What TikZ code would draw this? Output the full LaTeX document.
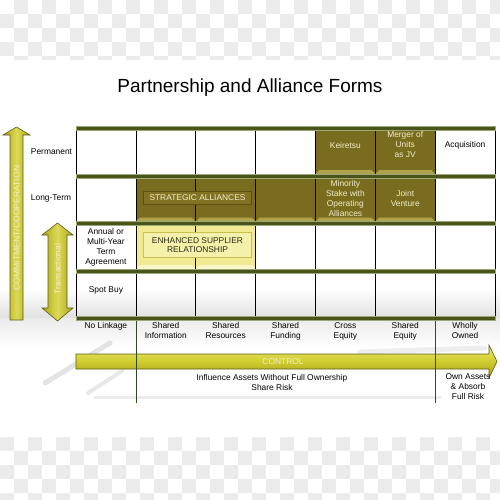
\documentclass[tikz,border=0pt]{standalone}
\usepackage{fontspec}
\setmainfont{Liberation Sans}
\definecolor{bandgreen}{HTML}{4A5419}
\definecolor{bandedge}{HTML}{98A878}
\definecolor{olivecell}{HTML}{7A6C1E}
\definecolor{olivebevel}{HTML}{B0A24A}
\definecolor{oliveplate}{HTML}{827324}
\definecolor{olivering}{HTML}{5E5012}
\definecolor{yellowcell}{HTML}{F1EA93}
\definecolor{yellowbevel}{HTML}{FAF6C8}
\definecolor{yellowplate}{HTML}{F5F0AA}
\definecolor{yellowring}{HTML}{C9BF55}
\definecolor{creamtext}{HTML}{F3EDCB}
\definecolor{darktext}{HTML}{2A2A12}
\definecolor{arrowlight}{HTML}{DEDA58}
\definecolor{arrowedge}{HTML}{A9A514}
\definecolor{arrowtop}{HTML}{ECEA6A}
\definecolor{arrowmid}{HTML}{CFCC30}
\definecolor{arrowbottom}{HTML}{9E9C14}
\definecolor{arrowline}{HTML}{5A5E18}
\definecolor{checkgray}{HTML}{EBEBEB}
\definecolor{splitgreen}{HTML}{2E4A22}
\newcommand{\cellfont}{\fontsize{8.4}{10}\selectfont}
\newcommand{\titlefont}{\fontsize{19}{22}\selectfont}
\begin{document}
\begin{tikzpicture}[x=1pt, y=-1pt,
  cellbox/.style={draw=black, line width=0.6pt, minimum width=59.86pt, minimum height=43.5pt, inner sep=0pt},
  whitecell/.style={cellbox, fill=white},
  olivebox/.style={cellbox, fill=olivecell, path picture={
    \fill[olivebevel] (path picture bounding box.south west) -- (path picture bounding box.south east)
      -- ([shift={(-4pt,4pt)}]path picture bounding box.south east) -- ([shift={(4pt,4pt)}]path picture bounding box.south west) -- cycle;}},
  yellowbox/.style={cellbox, fill=yellowcell, path picture={
    \fill[yellowbevel] (path picture bounding box.south west) -- (path picture bounding box.south east)
      -- ([shift={(-4pt,4pt)}]path picture bounding box.south east) -- ([shift={(4pt,4pt)}]path picture bounding box.south west) -- cycle;}},
  celltext/.style={font=\cellfont, align=center, inner sep=0pt},
  platebox/.style={celltext, minimum width=108pt, line width=0.5pt},
  sidetext/.style={font=\cellfont, text=creamtext, rotate=90, inner sep=0pt},
  bigarrow/.style={draw=arrowline, line width=0.6pt, left color=arrowedge, right color=arrowedge, middle color=arrowlight},
  splitline/.style={draw=splitgreen, line width=0.8pt}]
  \useasboundingbox (0,0) rectangle (500,500);
  % transparent-background checks, top and bottom
  \begin{scope}
    \clip (0,0) rectangle (500,60);
    \foreach \i in {0,...,35} \foreach \j in {0,...,4} {
      \pgfmathparse{int(mod(\i+\j,2))}
      \ifnum\pgfmathresult=1 \fill[checkgray] (14*\i,14*\j) rectangle ++(14,14); \fi}
  \end{scope}
  \begin{scope}
    \clip (0,437) rectangle (500,500);
    \foreach \i in {0,...,35} \foreach \j in {0,...,4} {
      \pgfmathparse{int(mod(\i+\j,2))}
      \ifnum\pgfmathresult=0 \fill[checkgray] (14*\i,437+14*\j) rectangle ++(14,14); \fi}
  \end{scope}
  % floor reflection and smudges
  \shade[top color=white, bottom color=gray!24] (0,288) rectangle (500,318);
  \shade[top color=gray!16, bottom color=white] (0,318) rectangle (500,348);
  \draw[gray!22, line width=5pt, line cap=round] (45,383) -- (110,343);
  \draw[gray!18, line width=4pt, line cap=round] (88,393) -- (122,371);
  \draw[gray!16, line width=3pt, line cap=round] (95,397) -- (440,397);
  \draw[gray!14, line width=5pt, line cap=round] (360,352) -- (485,348);
  % title
  \node[font=\titlefont] (title) at (250,88) {Partnership and Alliance Forms};
  % grid cells
  \foreach \r/\cy in {1/152.25, 2/199.75, 3/247.25}
    \foreach \c in {1,...,7}
      \node[whitecell] (c-\r-\c) at ({76+59.86*(\c-0.5)},\cy) {};
  \foreach \c in {1,...,7}
    \node[cellbox] (c-4-\c) at ({76+59.86*(\c-0.5)},294.75) {};
  \foreach \c in {5,6}
    \node[olivebox] (o-1-\c) at ({76+59.86*(\c-0.5)},152.25) {};
  \foreach \c in {2,...,6}
    \node[olivebox] (o-2-\c) at ({76+59.86*(\c-0.5)},199.75) {};
  \foreach \c in {2,3}
    \node[yellowbox] (y-3-\c) at ({76+59.86*(\c-0.5)},247.25) {};
  % raised plates
  \node[platebox, minimum height=13.5pt, fill=oliveplate, draw=olivering, text=creamtext] (strategic) at (197.5,197.5) {STRATEGIC ALLIANCES};
  \node[platebox, minimum height=25pt, fill=yellowplate, draw=yellowring, text=darktext, font=\fontsize{8.4}{9.5}\selectfont] (enhanced) at (197.5,245) {ENHANCED SUPPLIER\\RELATIONSHIP};
  % row bands
  \foreach \by in {128.5,176,223.5,271,318.5}
    \filldraw[fill=bandgreen, draw=bandedge, line width=0.4pt] (76,\by-2) rectangle (495,\by+2);
  % cell texts
  \node[celltext, text=creamtext] (keiretsu) at (o-1-5 |- 0,145) {Keiretsu};
  \node[celltext, text=creamtext] (merger) at (o-1-6 |- 0,145) {Merger of\\Units\\as JV};
  \node[celltext] (acquisition) at (c-1-7 |- 0,145) {Acquisition};
  \node[celltext, text=creamtext] (minority) at (o-2-5 |- 0,198.5) {Minority\\Stake with\\Operating\\Alliances};
  \node[celltext, text=creamtext] (joint) at (o-2-6 |- 0,198.5) {Joint\\Venture};
  % row labels
  \node[celltext] (permanent) at (51.5,152) {Permanent};
  \node[celltext] (longterm) at (51,198) {Long-Term};
  \node[celltext] (annual) at (c-3-1 |- 0,247) {Annual or\\Multi-Year\\Term\\Agreement};
  \node[celltext] (spotbuy) at (c-4-1 |- 0,290) {Spot Buy};
  % column labels
  \foreach \c/\txt in {1/{No Linkage}, 2/{Shared\\Information}, 3/{Shared\\Resources}, 4/{Shared\\Funding},
                       5/{Cross\\Equity}, 6/{Shared\\Equity}, 7/{Wholly\\Owned}}
    \node[celltext, anchor=north] (lbl-\c) at ({76+59.86*(\c-0.5)},322.5) {\txt};
  % commitment arrows
  \path[bigarrow] (10,320) -- (10,135) -- (3,135) -- (16.5,127) -- (30,135) -- (23,135) -- (23,320) -- cycle;
  \node[sidetext, font=\fontsize{8.6}{10}\selectfont] (commitment) at (16.5,228) {COMMITMENT/COOPERATION};
  \path[bigarrow] (48,235) -- (42,235) -- (57.5,223) -- (73,235) -- (67,235) -- (67,308) -- (73,308)
    -- (57.5,321) -- (42,308) -- (48,308) -- cycle;
  \node[sidetext] (transactional) at (57.5,269) {Transactional};
  % control arrow
  \path[draw=arrowline, line width=0.6pt, top color=arrowtop, bottom color=arrowbottom, middle color=arrowmid]
    (76,354) -- (489,354) -- (489,345) -- (497,361.5) -- (489,378) -- (489,369) -- (76,369) -- cycle;
  \node[celltext, text=creamtext] (control) at (283,361.5) {CONTROL};
  % ownership split lines
  \coordinate (splitL-top) at (136.5,320.5);
  \coordinate (splitL-bot) at (136.5,403);
  \coordinate (splitR-top) at (435.5,320.5);
  \coordinate (splitR-bot) at (435.5,403);
  \draw[splitline] (splitL-top) -- (splitL-bot);
  \draw[splitline] (splitR-top) -- (splitR-bot);
  \node[celltext] (influence) at (272,382) {Influence Assets Without Full Ownership\\Share Risk};
  \node[celltext] (ownassets) at (468,387) {Own Assets\\\& Absorb\\Full Risk};
\end{tikzpicture}
\end{document}
